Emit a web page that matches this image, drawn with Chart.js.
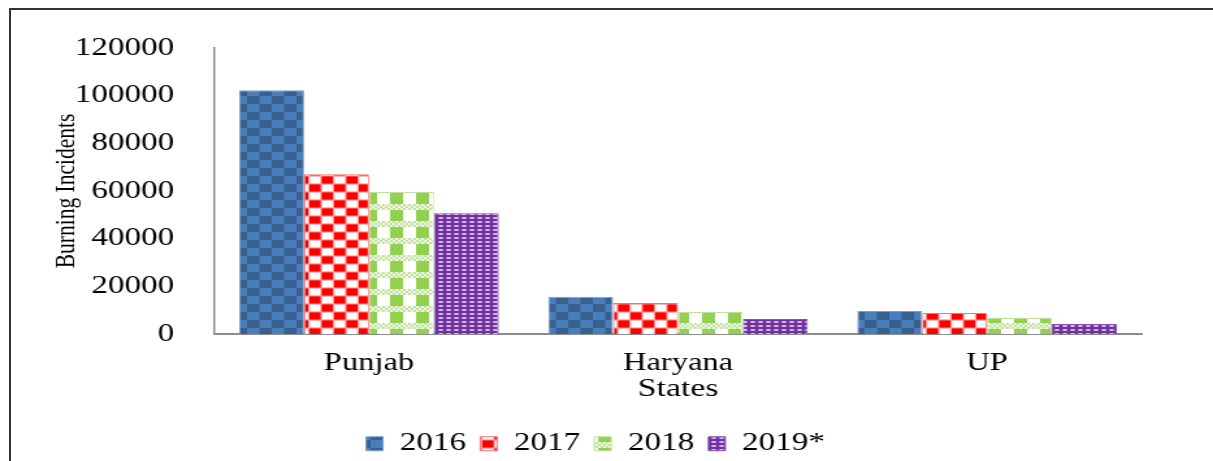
<!DOCTYPE html>
<html>
<head>
<meta charset="utf-8">
<script src="https://cdn.jsdelivr.net/npm/chart.js@4.4.1/dist/chart.umd.min.js"></script>
<style>
  html, body { margin: 0; padding: 0; background: #fff; overflow: hidden; }
  #frame { position: absolute; left: 9px; top: 8px; right: -4px; bottom: -4px; border-top: 2px solid #333; border-left: 2px solid #333; }
  #chart { position: absolute; left: 0; top: 0; }
</style>
</head>
<body>
<div id="frame"></div>
<!-- drawn at 933 px wide, then stretched to 1213 like the original picture -->
<canvas id="chart" width="933" height="461" style="width:1213px;height:461px"></canvas>
<script>
const states = ["Punjab", "Haryana", "UP"];
const years = ["2016", "2017", "2018", "2019*"];
const burn2016 = [102300, 15600, 9600];
const burn2017 = [67000, 13000, 8800];
const burn2018 = [59600, 9200, 6700];
const burn2019 = [50700, 6300, 4200];
const yTicks = [0, 20000, 40000, 60000, 80000, 100000, 120000];

const serif = "'Liberation Serif', 'Times New Roman', serif";

// ====================================================
// Pattern tiles for the bars
// ====================================================
function makePattern(w, h, draw) {
  const c = document.createElement("canvas");
  c.width = w;
  c.height = h;
  const g = c.getContext("2d");
  draw(g, w, h);
  return g.createPattern(c, "repeat");
}

const bluePattern = makePattern(19, 16, (g, w, h) => {
  g.fillStyle = "#4a7ebb";
  g.fillRect(0, 0, w, h);
  g.fillStyle = "#38608f";
  g.fillRect(0, 0, 9.5, 8);
  g.fillRect(9.5, 8, 9.5, 8);
});

const redPattern = makePattern(19, 16, (g, w, h) => {
  g.fillStyle = "#fff";
  g.fillRect(0, 0, w, h);
  const cells = [[0, 0], [9.5, 8]];
  for (const pass of [["#ffaaaa", 0.8], ["#ff0000", -0.4]]) {
    g.fillStyle = pass[0];
    for (const [cx, cy] of cells) {
      for (const dx of [-w, 0, w]) {
        for (const dy of [-h, 0, h]) {
          g.fillRect(cx + dx - pass[1], cy + dy - pass[1], 9.5 + 2 * pass[1], 8 + 2 * pass[1]);
        }
      }
    }
  }
});

const greenPattern = makePattern(20, 17, (g, w, h) => {
  g.fillStyle = "#fff";
  g.fillRect(0, 0, w, h);
  // light checkered band
  g.fillStyle = "#c3e2a2";
  g.fillRect(0, 0, w, 6);
  g.fillStyle = "#eef7e4";
  for (let x = 0; x < w; x += 2) {
    for (let y = 0; y < 6; y += 2) {
      if (((x + y) / 2) % 2 === 0) g.fillRect(x, y, 2, 2);
    }
  }
  g.fillStyle = "#92d050";
  g.fillRect(0, 6, 10, 11);
});

const purplePattern = makePattern(6, 4, (g, w, h) => {
  g.fillStyle = "#7030a0";
  g.fillRect(0, 0, w, h);
  g.fillStyle = "#b28bd0";
  g.fillRect(1, 1, 4, 2);
  g.fillStyle = "#f4ecfa";
  g.fillRect(2, 1.5, 2, 1);
});

// ====================================================
// Chart
// ====================================================
const ctx = document.getElementById("chart").getContext("2d");
new Chart(ctx, {
  type: "bar",
  data: {
    labels: states,
    datasets: [
      { label: years[0], data: burn2016, backgroundColor: bluePattern, borderColor: "#7d9fcb", borderWidth: 1 },
      { label: years[1], data: burn2017, backgroundColor: redPattern, borderColor: "#ff7070", borderWidth: 1 },
      { label: years[2], data: burn2018, backgroundColor: greenPattern, borderColor: "#c0e19c", borderWidth: 1 },
      { label: years[3], data: burn2019, backgroundColor: purplePattern, borderColor: "#8250b0", borderWidth: 1 },
    ],
  },
  options: {
    responsive: false,
    animation: false,
    devicePixelRatio: 1,
    categoryPercentage: 0.84,
    barPercentage: 1.0,
    layout: { padding: { left: 38, right: 55, top: 48, bottom: 0 } },
    plugins: {
      legend: {
        position: "bottom",
        maxHeight: 41,
        labels: {
          boxWidth: 13,
          boxHeight: 14,
          padding: 11,
          color: "#000",
          font: { family: serif, size: 25.5 },
        },
      },
      tooltip: { enabled: false },
    },
    scales: {
      x: {
        grid: { display: false },
        border: { color: "#8c8c8c", width: 2 },
        ticks: { color: "#000", font: { family: serif, size: 25 }, padding: 6 },
        title: {
          display: true,
          text: "States",
          color: "#000",
          font: { family: serif, size: 26 },
          padding: { top: 0, bottom: 15 },
        },
        afterFit: (s) => { s.height = 86; },
      },
      y: {
        min: 0,
        max: 120000,
        afterBuildTicks: (s) => { s.ticks = yTicks.map((v) => ({ value: v })); },
        grid: { display: false },
        border: { color: "#8c8c8c", width: 1.5 },
        ticks: {
          color: "#000",
          font: { family: serif, size: 25.5 },
          padding: 23,
          callback: (v) => String(v),
        },
        title: {
          display: true,
          text: "Burning Incidents",
          color: "#000",
          font: { family: serif, size: 21.5 },
          padding: 0,
        },
        afterFit: (s) => { s.width = 127; },
      },
    },
  },
});
</script>
</body>
</html>
